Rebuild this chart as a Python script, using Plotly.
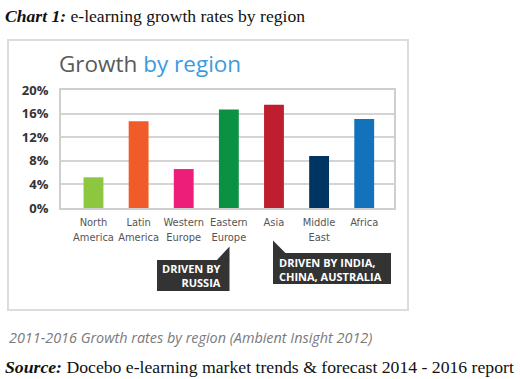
import plotly.graph_objects as go

categories = ["North America", "Latin America", "Western Europe", "Eastern Europe",
              "Asia", "Middle East", "Africa"]
tick_labels = ["North<br>America", "Latin<br>America", "Western<br>Europe", "Eastern<br>Europe",
               "Asia", "Middle<br>East", "Africa"]
growth = [5.2, 14.7, 6.6, 16.7, 17.5, 8.8, 15.1]
bar_colors = ["#8dc63f", "#f15a29", "#ed1e79", "#0b9144", "#be1e2d", "#003462", "#1272bb"]
y_ticks = [0, 4, 8, 12, 16, 20]

# plot-area pixel geometry (for placing decorative items)
L, R, T, B = 61, 394, 90, 208
W, H = 520, 379


def px(x):
    return (x - L) / (R - L)


def py(y):
    return (B - y) / (B - T)


fig = go.Figure()
fig.add_trace(go.Bar(
    x=categories, y=growth,
    marker=dict(color=bar_colors, line=dict(width=0)),
    width=0.44,
))

fig.update_layout(
    width=W, height=H,
    margin=dict(l=L, r=W - R, t=T, b=H - B),
    paper_bgcolor="white", plot_bgcolor="white",
    showlegend=False,
    xaxis=dict(
        range=[-0.72, 6.66],
        tickmode="array", tickvals=categories, ticktext=tick_labels, tickangle=0,
        tickfont=dict(family="DejaVu Sans Condensed, Liberation Sans Narrow, Roboto", size=11, color="#555"),
        showgrid=False, showline=True, linecolor="#cfcfcf", linewidth=2, mirror=True,
        ticks="outside", ticklen=3, tickcolor="rgba(0,0,0,0)", fixedrange=True,
    ),
    yaxis=dict(
        range=[0, 20],
        tickvals=y_ticks, ticktext=[f"<b>{v}%</b>" for v in y_ticks],
        tickfont=dict(family="Open Sans", size=13, color="#333"),
        showgrid=True, gridcolor="#d4d4d4", gridwidth=2,
        showline=True, linecolor="#cfcfcf", linewidth=2, mirror=True,
        ticks="outside", ticklen=8, tickcolor="rgba(0,0,0,0)",
        zeroline=False, fixedrange=True,
    ),
)

shapes = []
# outer frame
shapes.append(dict(type="rect", xref="paper", yref="paper",
                   x0=px(8), x1=px(408), y0=py(40), y1=py(310),
                   line=dict(color="#dcdcdc", width=2), layer="below"))
# callout boxes
shapes.append(dict(type="rect", xref="paper", yref="paper",
                   x0=px(157), x1=px(229.5), y0=py(260), y1=py(291),
                   fillcolor="#333333", line=dict(width=0)))
shapes.append(dict(type="path", xref="paper", yref="paper",
                   path=f"M {px(216.5)} {py(260.5)} L {px(229.5)} {py(260.5)} L {px(229.5)} {py(246.5)} Z",
                   fillcolor="#333333", line=dict(width=0)))
shapes.append(dict(type="rect", xref="paper", yref="paper",
                   x0=px(273), x1=px(391), y0=py(253), y1=py(284),
                   fillcolor="#333333", line=dict(width=0)))
shapes.append(dict(type="path", xref="paper", yref="paper",
                   path=f"M {px(273)} {py(253.5)} L {px(286)} {py(253.5)} L {px(273)} {py(240.5)} Z",
                   fillcolor="#333333", line=dict(width=0)))
fig.update_layout(shapes=shapes)

ann = []
ann.append(dict(xref="paper", yref="paper", x=px(3), y=py(16), xanchor="left", yanchor="middle",
                text="<b><i>Chart 1:</i></b> e-learning growth rates by region",
                font=dict(family="Liberation Serif", size=17.6, color="#111"), showarrow=False))
ann.append(dict(xref="paper", yref="paper", x=px(57), y=py(64), xanchor="left", yanchor="middle",
                text="Growth <span style='color:#3b9be0'>by region</span>",
                font=dict(family="Open Sans", size=22.5, color="#5a5a5a"), showarrow=False))
ann.append(dict(xref="paper", yref="paper", x=px(223), y=py(275), xanchor="right", yanchor="middle",
                text="<b>DRIVEN BY<br>RUSSIA</b>", align="right",
                font=dict(family="Open Sans", size=11, color="white"), showarrow=False))
ann.append(dict(xref="paper", yref="paper", x=px(277), y=py(269), xanchor="left", yanchor="middle",
                text="<b>DRIVEN BY INDIA,<br>CHINA, AUSTRALIA</b>", align="left",
                font=dict(family="Open Sans", size=11, color="white"), showarrow=False))
ann.append(dict(xref="paper", yref="paper", x=px(7), y=py(337), xanchor="left", yanchor="middle",
                text="<i>2011-2016 Growth rates by region (Ambient Insight 2012)</i>",
                font=dict(family="Open Sans", size=14.4, color="#7a7a7a"), showarrow=False))
ann.append(dict(xref="paper", yref="paper", x=px(3), y=py(367), xanchor="left", yanchor="middle",
                text="<b><i>Source:</i></b> Docebo e-learning market trends &amp; forecast 2014 - 2016 report",
                font=dict(family="Liberation Serif", size=17.7, color="#111"), showarrow=False))
fig.update_layout(annotations=ann)

fig.write_html("out.html", config={"displayModeBar": False},
               post_script="document.body.style.margin='0';document.body.style.overflow='hidden';")
